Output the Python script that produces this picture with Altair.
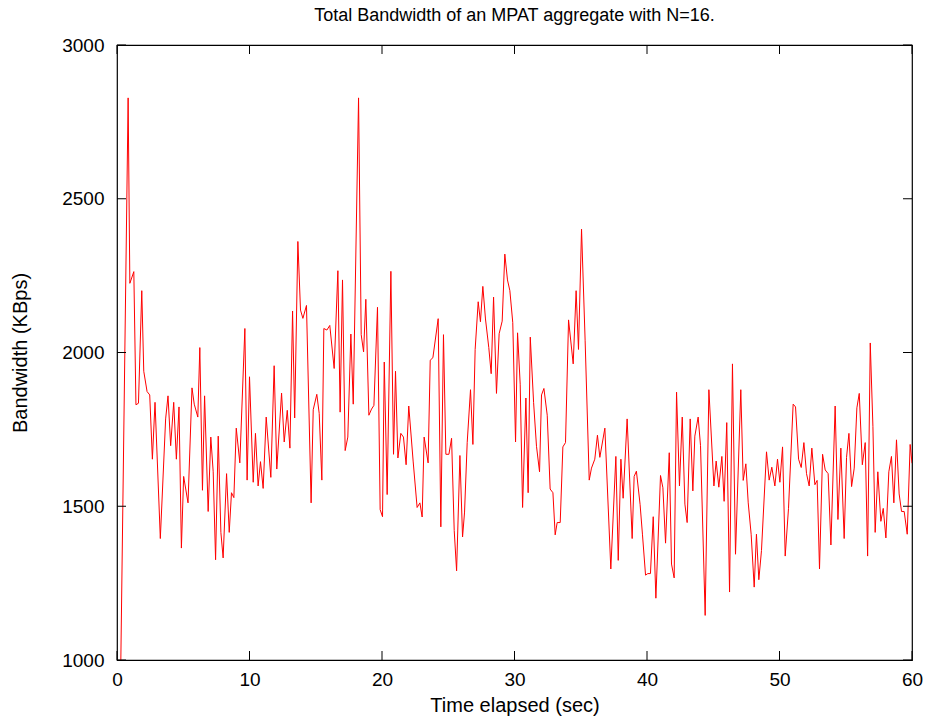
import altair as alt
import pandas as pd

# Time (sec) and total bandwidth (KBps)
time_s = [
    0.29, 0.84, 0.97, 1.27, 1.43, 1.62, 1.87, 2.02, 2.27, 2.47, 2.67, 2.87, 3.27, 3.67, 3.85,
    4.05, 4.28, 4.48, 4.68, 4.86, 5.03, 5.36, 5.66, 5.83, 6.10, 6.25, 6.45, 6.61, 6.88, 7.08,
    7.26, 7.44, 7.64, 7.84, 8.01, 8.27, 8.47, 8.64, 8.82, 9.00, 9.27, 9.65, 9.82, 10.00, 10.28,
    10.45, 10.65, 10.83, 11.03, 11.26, 11.61, 11.86, 12.06, 12.42, 12.62, 12.85, 13.05, 13.25,
    13.41, 13.65, 13.85, 14.03, 14.30, 14.65, 14.81, 15.08, 15.26, 15.46, 15.61, 15.84, 16.06,
    16.39, 16.67, 16.84, 17.02, 17.22, 17.42, 17.65, 17.83, 18.23, 18.43, 18.61, 18.78, 19.01,
    19.21, 19.39, 19.66, 19.86, 20.04, 20.17, 20.39, 20.67, 20.87, 21.02, 21.20, 21.42, 21.62,
    21.82, 22.02, 22.35, 22.65, 22.86, 23.03, 23.18, 23.48, 23.64, 23.84, 24.24, 24.44, 24.64,
    24.82, 25.05, 25.25, 25.45, 25.63, 25.88, 26.08, 26.23, 26.43, 26.68, 26.86, 27.03, 27.26,
    27.43, 27.61, 27.81, 28.06, 28.24, 28.42, 28.64, 28.84, 29.07, 29.27, 29.47, 29.65, 29.87,
    30.08, 30.23, 30.43, 30.61, 30.86, 31.03, 31.19, 31.44, 31.66, 31.89, 32.04, 32.22, 32.47,
    32.69, 32.90, 33.07, 33.22, 33.45, 33.65, 33.85, 34.08, 34.43, 34.65, 34.83, 35.06, 35.33,
    35.64, 35.81, 36.06, 36.26, 36.44, 36.82, 37.27, 37.65, 37.83, 38.03, 38.20, 38.50, 38.88,
    39.03, 39.20, 39.48, 39.66, 39.89, 40.06, 40.26, 40.47, 40.67, 41.02, 41.20, 41.40, 41.68,
    41.85, 42.05, 42.23, 42.45, 42.66, 42.86, 43.03, 43.26, 43.46, 43.61, 43.86, 44.04, 44.39,
    44.67, 45.05, 45.22, 45.42, 45.65, 45.82, 46.02, 46.23, 46.45, 46.68, 47.08, 47.26, 47.46,
    47.64, 47.86, 48.09, 48.26, 48.44, 48.64, 49.02, 49.22, 49.42, 49.65, 49.85, 50.03, 50.23,
    50.43, 50.68, 51.03, 51.21, 51.44, 51.64, 51.84, 52.04, 52.24, 52.44, 52.67, 52.84, 53.02,
    53.25, 53.45, 53.67, 53.88, 54.20, 54.41, 54.63, 54.88, 55.06, 55.24, 55.44, 55.64, 55.84,
    56.02, 56.25, 56.47, 56.65, 56.85, 57.05, 57.22, 57.42, 57.65, 57.83, 58.03, 58.25, 58.45,
    58.63, 58.83, 59.03, 59.21, 59.41, 59.64, 59.86, 60.00,
]
bandwidth = [
    1000, 2828, 2225, 2263, 1830, 1835, 2201, 1939, 1873, 1862, 1653, 1838, 1395, 1784, 1859,
    1697, 1838, 1653, 1823, 1364, 1597, 1511, 1885, 1832, 1790, 2016, 1552, 1859, 1483, 1725,
    1612, 1326, 1728, 1415, 1332, 1606, 1415, 1544, 1528, 1754, 1641, 2078, 1585, 1921, 1578,
    1737, 1566, 1645, 1558, 1790, 1594, 1957, 1621, 1868, 1709, 1812, 1689, 2135, 1787, 2361,
    2138, 2111, 2153, 1511, 1814, 1864, 1802, 1585, 2078, 2073, 2088, 1948, 2266, 1806, 2236,
    1681, 1725, 2060, 1832, 2828, 2058, 2002, 2173, 1796, 1816, 1828, 2147, 1489, 1466, 1969,
    1538, 2264, 1669, 1939, 1657, 1737, 1725, 1635, 1826, 1647, 1496, 1511, 1465, 1725, 1641,
    1975, 1983, 2110, 1433, 2058, 1669, 1669, 1721, 1421, 1290, 1665, 1400, 1481, 1707, 1879,
    1701, 2010, 2165, 2100, 2215, 2109, 2016, 1931, 2180, 1867, 2061, 2102, 2320, 2236, 2201,
    2097, 1709, 2064, 1897, 1496, 1852, 1544, 2050, 1838, 1695, 1612, 1862, 1883, 1796, 1556,
    1544, 1407, 1447, 1447, 1693, 1707, 2106, 1963, 2201, 2010, 2401, 2040, 1585, 1624, 1653,
    1731, 1659, 1754, 1296, 1662, 1324, 1653, 1526, 1784, 1395, 1597, 1614, 1505, 1407, 1276,
    1281, 1281, 1466, 1201, 1600, 1560, 1380, 1674, 1312, 1267, 1871, 1566, 1790, 1507, 1447,
    1784, 1550, 1728, 1790, 1697, 1145, 1879, 1566, 1647, 1562, 1662, 1516, 1772, 1221, 1963,
    1344, 1879, 1584, 1638, 1511, 1409, 1237, 1409, 1261, 1356, 1677, 1585, 1627, 1566, 1653,
    1578, 1693, 1338, 1493, 1832, 1823, 1653, 1626, 1707, 1606, 1566, 1689, 1570, 1584, 1296,
    1669, 1618, 1606, 1374, 1826, 1457, 1689, 1395, 1659, 1737, 1564, 1624, 1820, 1867, 1635,
    1707, 1338, 2031, 1760, 1415, 1612, 1451, 1493, 1397, 1612, 1662, 1511, 1716, 1540, 1483,
    1483, 1409, 1701, 1640,
]

x_ticks = [0, 10, 20, 30, 40, 50, 60]
y_ticks = [1000, 1500, 2000, 2500, 3000]

FONT = "Liberation Sans"
W, H = 795, 615
TICK = 9

df = pd.DataFrame({"t": time_s[:len(bandwidth)], "bw": bandwidth[:len(time_s)]})
dfx = pd.DataFrame({"t": x_ticks})
dfy = pd.DataFrame({"bw": y_ticks})

xscale = alt.Scale(domain=[0, 60], nice=False, zero=False)
yscale = alt.Scale(domain=[1000, 3000], nice=False, zero=False)

line = alt.Chart(df).mark_line(color="#ff0000", strokeWidth=1, clip=True).encode(
    x=alt.X("t:Q", scale=xscale,
            axis=alt.Axis(values=x_ticks, title="Time elapsed (sec)", tickSize=0,
                          domain=False, grid=False, labelPadding=10, titlePadding=6,
                          labelFontSize=19, titleFontSize=20, labelFont=FONT,
                          titleFont=FONT, titleFontWeight="normal", labelColor="black",
                          titleColor="black", labelFlush=False, format="d")),
    y=alt.Y("bw:Q", scale=yscale,
            axis=alt.Axis(values=y_ticks, title="Bandwidth (KBps)", tickSize=0,
                          domain=False, grid=False, labelPadding=13, format="d",
                          labelFontSize=19, titleFontSize=20, labelFont=FONT,
                          titleFont=FONT, titleFontWeight="normal", labelColor="black",
                          titleColor="black", titleX=-97, titleY=H / 2, titleAngle=-90,
                          titleBaseline="middle", titleAlign="center")),
)

xt_bottom = alt.Chart(dfx).mark_rule(color="black", strokeWidth=1).encode(
    x=alt.X("t:Q", scale=xscale), y=alt.value(H), y2=alt.value(H - TICK))
xt_top = alt.Chart(dfx).mark_rule(color="black", strokeWidth=1).encode(
    x=alt.X("t:Q", scale=xscale), y=alt.value(0), y2=alt.value(TICK))
yt_left = alt.Chart(dfy).mark_rule(color="black", strokeWidth=1).encode(
    y=alt.Y("bw:Q", scale=yscale), x=alt.value(0), x2=alt.value(TICK))
yt_right = alt.Chart(dfy).mark_rule(color="black", strokeWidth=1).encode(
    y=alt.Y("bw:Q", scale=yscale), x=alt.value(W), x2=alt.value(W - TICK))

chart = alt.layer(line, xt_bottom, xt_top, yt_left, yt_right).properties(
    width=W, height=H,
    title=alt.TitleParams("Total Bandwidth of an MPAT aggregate with N=16.",
                          font=FONT, fontSize=18, fontWeight="normal", color="black",
                          anchor="middle", offset=11),
    autosize=alt.AutoSizeParams(type="none"),
    padding={"left": 117, "top": 45, "right": 18, "bottom": 65},
).configure(background="white").configure_view(stroke="black", strokeWidth=1.2)

chart.save("out.html", embed_options={"renderer": "svg", "actions": False})
